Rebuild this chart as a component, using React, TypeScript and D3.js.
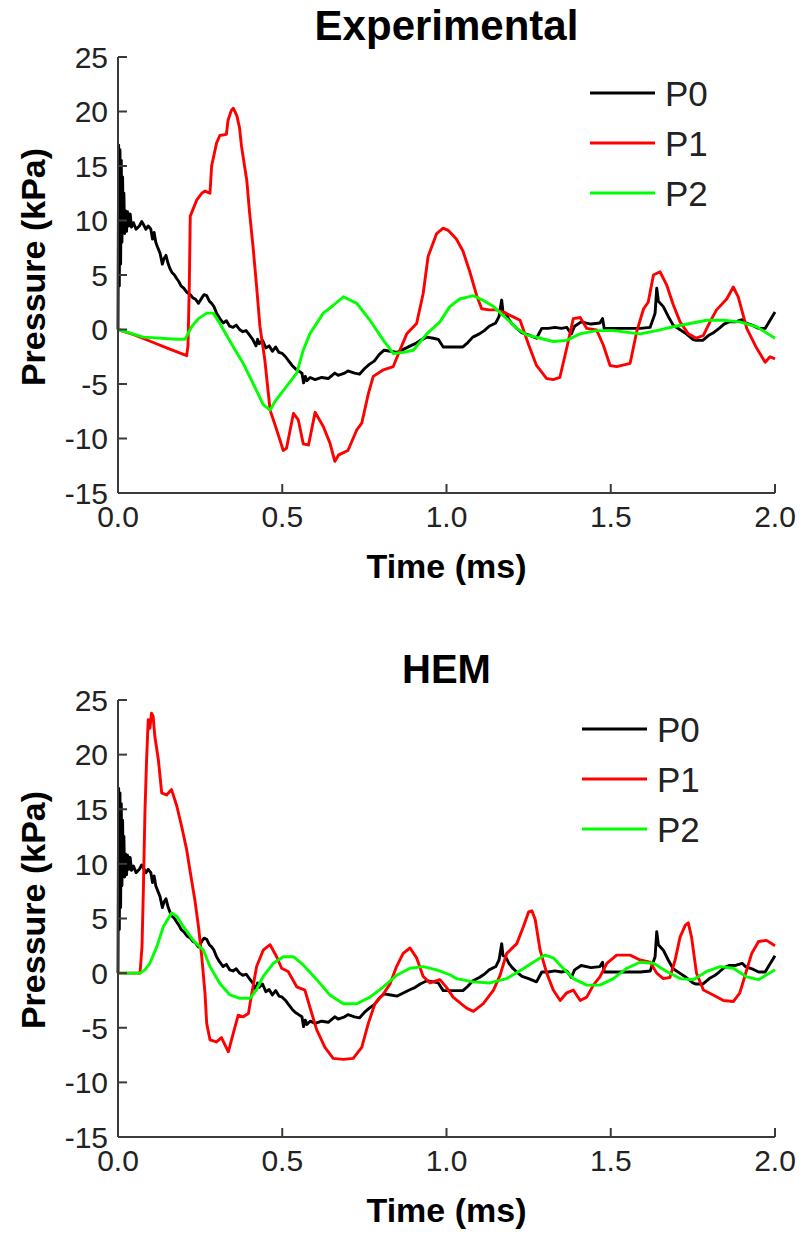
import React from "react";
import * as d3 from "d3";

type Pt = [number, number];

const xTicks = [0, 0.5, 1.0, 1.5, 2.0];
const yTicks = [25, 20, 15, 10, 5, 0, -5, -10, -15];
const seriesNames = ["P0", "P1", "P2"];
const seriesColors = ["#000000", "#ff0000", "#00ff00"];
const panelTitles = ["Experimental", "HEM"];

// P0 (same measured signal shown in both panels)
const p0: Pt[] = [
  [0, 0], [0.002, 16.9], [0.004, 4], [0.006, 16.5], [0.008, 6], [0.01, 15.5], [0.012, 8], [0.014, 14],
  [0.016, 9], [0.018, 12.5], [0.02, 8.8], [0.023, 10.9], [0.026, 9], [0.029, 10.8], [0.033, 9.5],
  [0.037, 10.6], [0.041, 9.4], [0.047, 9.8], [0.055, 9.2], [0.065, 9.5], [0.072, 9.9], [0.078, 9.6],
  [0.085, 9.2], [0.092, 9.5], [0.1, 9.2], [0.105, 8.3], [0.11, 8.9], [0.115, 8.0], [0.12, 7.6],
  [0.128, 7.0], [0.135, 6.0], [0.14, 6.5], [0.146, 6.8], [0.152, 6.1], [0.158, 5.6], [0.165, 5.2],
  [0.172, 5.0], [0.178, 4.7], [0.185, 4.4], [0.192, 4.0], [0.2, 3.8], [0.21, 3.4], [0.22, 3.2],
  [0.228, 2.9], [0.235, 2.8], [0.245, 2.4], [0.255, 2.9], [0.262, 3.2], [0.27, 3.1], [0.278, 2.6],
  [0.285, 2.4], [0.292, 2.1], [0.3, 1.5], [0.31, 1.0], [0.32, 0.6], [0.33, 0.8], [0.34, 0.3],
  [0.35, 0.2], [0.36, 0.4], [0.37, 0.0], [0.38, -0.2], [0.39, -0.1], [0.4, -0.5], [0.41, -0.9],
  [0.42, -1.5], [0.425, -0.9], [0.43, -1.3], [0.44, -1.0], [0.45, -1.7], [0.46, -1.5], [0.47, -2.0],
  [0.48, -1.6], [0.49, -2.1], [0.5, -2.2], [0.51, -2.5], [0.52, -2.9], [0.53, -3.3], [0.54, -3.6],
  [0.55, -3.8], [0.56, -4.0], [0.565, -4.9], [0.57, -4.3], [0.575, -4.7], [0.585, -4.4], [0.6, -4.6],
  [0.62, -4.4], [0.64, -4.5], [0.66, -4.0], [0.67, -4.2], [0.69, -4.0], [0.7, -3.8], [0.72, -4.0],
  [0.735, -4.1], [0.75, -3.6], [0.765, -3.2], [0.78, -2.9], [0.795, -2.3], [0.81, -1.9], [0.83, -2.0],
  [0.85, -2.1], [0.87, -1.8], [0.89, -1.5], [0.905, -1.3], [0.92, -1.0], [0.94, -0.7], [0.96, -0.8],
  [0.975, -0.9], [0.99, -1.6], [1.0, -1.6], [1.03, -1.6], [1.05, -1.6], [1.065, -1.2], [1.08, -0.7],
  [1.1, -0.4], [1.115, -0.1], [1.13, 0.3], [1.15, 0.6], [1.16, 1.2], [1.168, 2.7], [1.172, 1.6],
  [1.18, 1.5], [1.19, 0.9], [1.2, 0.5], [1.214, 0.1], [1.23, -0.3], [1.25, -0.5], [1.274, -0.8],
  [1.29, 0.1], [1.31, 0.1], [1.33, 0.2], [1.35, 0.1], [1.366, 0.2], [1.38, -0.4], [1.39, 0.3],
  [1.41, 0.7], [1.44, 0.5], [1.467, 0.6], [1.475, 1.0], [1.48, 0.1], [1.52, 0.1], [1.56, 0.1],
  [1.59, 0.1], [1.62, 0.2], [1.635, 1.5], [1.64, 3.8], [1.645, 2.6], [1.66, 2.1], [1.675, 1.2],
  [1.69, 0.4], [1.71, 0.0], [1.73, -0.4], [1.75, -0.9], [1.76, -1.0], [1.78, -1.0], [1.8, -0.5],
  [1.815, -0.25], [1.83, 0.1], [1.845, 0.5], [1.86, 0.7], [1.88, 0.7], [1.9, 0.9], [1.91, 0.6],
  [1.93, 0.4], [1.95, 0.1], [1.97, 0.1], [1.98, 0.6], [2.0, 1.6],
];

const expP1: Pt[] = [
  [0, 0], [0.05, -0.5], [0.1, -1.1], [0.15, -1.7], [0.209, -2.4], [0.213, -1.5], [0.217, 4], [0.22, 10.4],
  [0.24, 11.9], [0.255, 12.5], [0.265, 12.7], [0.28, 12.5], [0.285, 15.0], [0.3, 17.1], [0.31, 17.8],
  [0.33, 17.9], [0.335, 19.2], [0.345, 20.1], [0.351, 20.3], [0.362, 19.6], [0.37, 18.5], [0.376, 16.8],
  [0.392, 13.7], [0.4, 10.9], [0.412, 7.3], [0.422, 3.9], [0.432, 0.3], [0.447, -2.8], [0.463, -7.4],
  [0.483, -9.2], [0.503, -11.1], [0.513, -10.9], [0.534, -7.7], [0.549, -8.3], [0.564, -10.5],
  [0.58, -10.6], [0.6, -7.6], [0.625, -8.9], [0.645, -10.4], [0.66, -12.1], [0.672, -11.5], [0.7, -11.1],
  [0.727, -9.2], [0.742, -8.6], [0.762, -5.9], [0.777, -4.3], [0.808, -3.7], [0.838, -3.4],
  [0.858, -1.9], [0.879, -0.4], [0.909, 0.55], [0.929, 3.3], [0.944, 6.7], [0.97, 8.8], [0.99, 9.3],
  [1.005, 9.1], [1.03, 8.3], [1.05, 7.2], [1.071, 5.3], [1.092, 3.1], [1.107, 1.9], [1.13, 1.8],
  [1.153, 1.8], [1.18, 1.5], [1.2, 1.2], [1.224, 0.85], [1.25, -1.4], [1.274, -3.3], [1.305, -4.5],
  [1.325, -4.6], [1.345, -4.4], [1.366, -1.7], [1.386, 1.0], [1.407, 1.1], [1.427, 0.1], [1.457, -0.05],
  [1.477, -1.4], [1.498, -3.3], [1.518, -3.4], [1.559, -3.1], [1.579, -0.2], [1.6, 1.9], [1.614, 2.5],
  [1.63, 5.0], [1.65, 5.3], [1.67, 4.1], [1.69, 2.3], [1.711, 0.7], [1.736, -0.4], [1.761, -0.8],
  [1.782, -0.55], [1.802, 0.7], [1.822, 1.8], [1.853, 2.8], [1.873, 3.9], [1.888, 3.0], [1.914, 0.1],
  [1.944, -1.7], [1.97, -3.0], [1.985, -2.5], [2.0, -2.7],
];

const expP2: Pt[] = [
  [0, 0], [0.077, -0.7], [0.178, -0.9], [0.204, -0.9], [0.224, 0.25], [0.245, 1.0], [0.27, 1.5],
  [0.29, 1.5], [0.31, 0.55], [0.351, -1.6], [0.381, -3.1], [0.412, -5.0], [0.442, -6.9], [0.463, -7.4],
  [0.478, -6.6], [0.503, -5.6], [0.544, -4.0], [0.564, -1.9], [0.584, -0.4], [0.625, 1.5], [0.655, 2.2],
  [0.686, 3.0], [0.727, 2.4], [0.767, 0.85], [0.808, -1.0], [0.838, -2.2], [0.869, -2.1], [0.899, -1.9],
  [0.94, -0.4], [0.98, 0.7], [1.01, 2.1], [1.04, 2.8], [1.082, 3.1], [1.11, 2.7], [1.143, 2.1],
  [1.183, 1.0], [1.214, 0.1], [1.244, -0.5], [1.285, -0.8], [1.325, -1.1], [1.366, -1.0], [1.406, -0.4],
  [1.457, -0.1], [1.508, -0.1], [1.59, -0.4], [1.64, -0.1], [1.69, 0.25], [1.741, 0.55], [1.792, 0.85],
  [1.843, 0.85], [1.893, 0.7], [1.944, 0.25], [2.0, -0.8],
];

const hemP1: Pt[] = [
  [0, 0], [0.067, 0], [0.073, 2.4], [0.077, 7.3], [0.082, 14.7], [0.087, 19.5], [0.092, 23.2],
  [0.097, 22.4], [0.102, 23.8], [0.107, 23.5], [0.112, 21.7], [0.123, 19.5], [0.133, 16.5],
  [0.148, 16.3], [0.163, 16.8], [0.179, 15.3], [0.194, 13.4], [0.209, 11.3], [0.224, 8.5], [0.234, 6.7],
  [0.245, 4.25], [0.255, 1.5], [0.265, -1.9], [0.27, -4.6], [0.28, -6.1], [0.3, -6.3], [0.315, -5.9],
  [0.336, -7.2], [0.351, -5.5], [0.366, -3.85], [0.381, -4.0], [0.397, -3.7], [0.407, -1.9],
  [0.422, 0.6], [0.442, 2.1], [0.463, 2.6], [0.483, 1.5], [0.498, 0.45], [0.518, 0.15], [0.544, -1.25],
  [0.569, -1.55], [0.584, -3.1], [0.605, -5.2], [0.63, -6.8], [0.655, -7.8], [0.686, -7.9],
  [0.716, -7.8], [0.742, -6.8], [0.762, -4.6], [0.782, -2.8], [0.808, -1.9], [0.828, -1.0],
  [0.848, 0.6], [0.868, 1.8], [0.889, 2.3], [0.909, 1.4], [0.929, -0.3], [0.95, -0.9], [0.98, -0.6],
  [1.0, -1.3], [1.02, -2.2], [1.061, -3.2], [1.082, -3.5], [1.112, -2.8], [1.143, -1.55], [1.163, -0.2],
  [1.183, 1.8], [1.214, 2.7], [1.234, 4.25], [1.25, 5.6], [1.26, 5.7], [1.27, 4.9], [1.285, 2.1],
  [1.305, 0], [1.325, -1.55], [1.346, -2.5], [1.366, -1.8], [1.386, -1.55], [1.407, -2.5], [1.427, -2.2],
  [1.447, -1.1], [1.467, -0.35], [1.488, 0.9], [1.518, 1.65], [1.559, 1.65], [1.589, 1.2], [1.62, 1.0],
  [1.64, 0], [1.66, -0.5], [1.68, -0.4], [1.696, 1.2], [1.711, 3.3], [1.727, 4.4], [1.736, 4.6],
  [1.746, 3.3], [1.761, 0], [1.782, -1.55], [1.812, -2.0], [1.843, -2.5], [1.873, -2.6], [1.893, -1.8],
  [1.914, 0.3], [1.929, 1.8], [1.95, 2.9], [1.974, 3.0], [2.0, 2.5],
];

const hemP2: Pt[] = [
  [0, 0], [0.067, 0], [0.082, 0.3], [0.097, 0.9], [0.118, 2.4], [0.138, 4.25], [0.163, 5.5],
  [0.179, 5.2], [0.199, 4.25], [0.229, 3.0], [0.26, 2.1], [0.28, 0.6], [0.31, -0.95], [0.341, -2.0],
  [0.371, -2.3], [0.402, -2.3], [0.422, -1.5], [0.442, -0.3], [0.473, 0.9], [0.503, 1.5], [0.534, 1.5],
  [0.564, 0.75], [0.605, -0.6], [0.645, -2.0], [0.686, -2.8], [0.727, -2.8], [0.767, -2.2],
  [0.808, -1.25], [0.848, -0.2], [0.889, 0.45], [0.929, 0.6], [0.97, 0.3], [1.01, -0.15], [1.03, -0.5],
  [1.082, -0.8], [1.132, -0.9], [1.183, -0.5], [1.22, 0.15], [1.264, 1.0], [1.3, 1.65], [1.325, 1.4],
  [1.355, 0.45], [1.386, -0.5], [1.427, -1.1], [1.467, -1.1], [1.508, -0.5], [1.549, 0.45], [1.589, 1.0],
  [1.63, 0.9], [1.67, 0.15], [1.711, -0.5], [1.751, -0.6], [1.792, 0.15], [1.833, 0.6], [1.873, 0.45],
  [1.914, -0.35], [1.95, -0.6], [2.0, 0.3],
];

const panels = [
  { title: panelTitles[0], titleSize: 42, series: [p0, expP1, expP2], top: 57, bottom: 493, titleY: 40, xLabelY: 578, legX: 590, legY: 93, yLabelCy: 267 },
  { title: panelTitles[1], titleSize: 40, series: [p0, hemP1, hemP2], top: 700, bottom: 1137, titleY: 683, xLabelY: 1222, legX: 582, legY: 729, yLabelCy: 910 },
];

const LEFT = 118;
const RIGHT = 775;
const FONT = "'Liberation Sans', Arial, Helvetica, sans-serif";
const AXIS_COLOR = "#3a3a3a";

function Panel({ p }: { p: (typeof panels)[number] }) {
  const x = d3.scaleLinear().domain([0, 2]).range([LEFT, RIGHT]);
  const y = d3.scaleLinear().domain([-15, 25]).range([p.bottom, p.top]);
  const line = d3
    .line<Pt>()
    .x((d) => x(d[0]))
    .y((d) => y(d[1]));
  const tickLen = 9;
  return (
    <g>
      <text x={(LEFT + RIGHT) / 2} y={p.titleY} textAnchor="middle" fontFamily={FONT} fontWeight="bold" fontSize={p.titleSize} fill="#000">
        {p.title}
      </text>
      {p.series.map((s, i) => (
        <path key={i} d={line(s) || ""} fill="none" stroke={seriesColors[i]} strokeWidth={2.9} strokeLinejoin="round" />
      ))}
      <line x1={LEFT} x2={LEFT} y1={p.top} y2={p.bottom} stroke={AXIS_COLOR} strokeWidth={2} />
      <line x1={LEFT} x2={RIGHT} y1={p.bottom} y2={p.bottom} stroke={AXIS_COLOR} strokeWidth={2} />
      {yTicks.map((t) => (
        <g key={"y" + t}>
          <line x1={LEFT} x2={LEFT + tickLen} y1={y(t)} y2={y(t)} stroke={AXIS_COLOR} strokeWidth={2} />
          <text x={LEFT - 10} y={y(t)} dy="0.36em" textAnchor="end" fontFamily={FONT} fontSize={30} fill="#222">
            {t}
          </text>
        </g>
      ))}
      {xTicks.map((t) => (
        <g key={"x" + t}>
          <line x1={x(t)} x2={x(t)} y1={p.bottom} y2={p.bottom - tickLen} stroke={AXIS_COLOR} strokeWidth={2} />
          <text x={x(t)} y={p.bottom + 34} textAnchor="middle" fontFamily={FONT} fontSize={30} fill="#222">
            {t.toFixed(1)}
          </text>
        </g>
      ))}
      <text x={(LEFT + RIGHT) / 2} y={p.xLabelY} textAnchor="middle" fontFamily={FONT} fontWeight="bold" fontSize={34} fill="#000">
        Time (ms)
      </text>
      <text
        transform={`translate(45, ${p.yLabelCy}) rotate(-90)`}
        textAnchor="middle"
        fontFamily={FONT}
        fontWeight="bold"
        fontSize={34}
        fill="#000"
      >
        Pressure (kPa)
      </text>
      {seriesNames.map((n, i) => (
        <g key={n}>
          <line x1={p.legX} x2={p.legX + 65} y1={p.legY + i * 50} y2={p.legY + i * 50} stroke={seriesColors[i]} strokeWidth={3} />
          <text x={p.legX + 75} y={p.legY + i * 50} dy="0.36em" fontFamily={FONT} fontSize={35} fill="#222">
            {n}
          </text>
        </g>
      ))}
    </g>
  );
}

export default function App() {
  return (
    <svg width={801} height={1235} style={{ position: "absolute", left: 0, top: 0, background: "#fff" }}>
      <rect width={801} height={1235} fill="#fff" />
      {panels.map((p) => (
        <Panel key={p.title} p={p} />
      ))}
    </svg>
  );
}
